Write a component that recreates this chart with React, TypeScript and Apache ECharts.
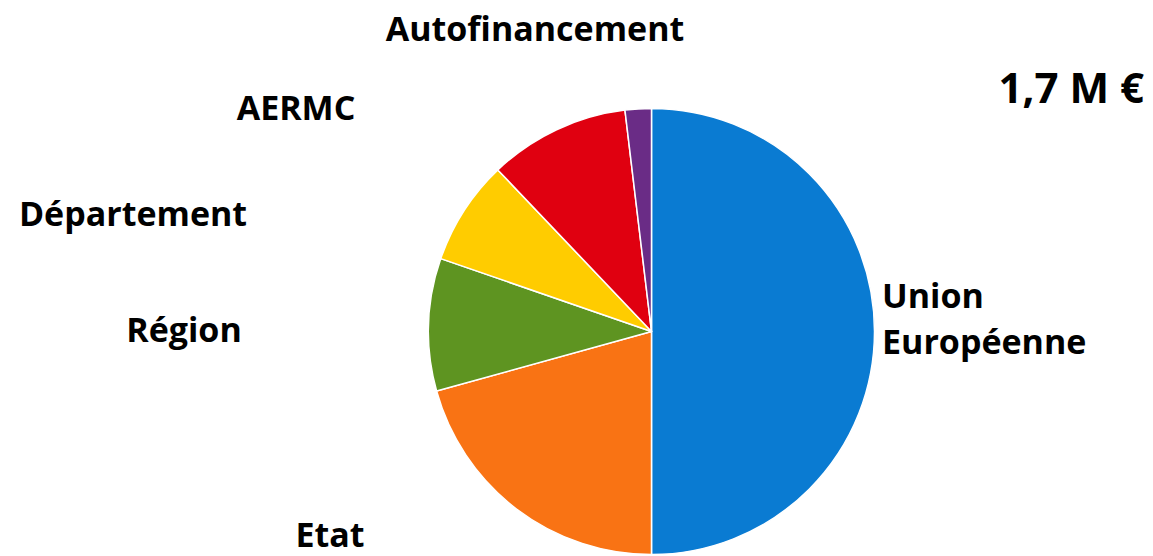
import React, { useEffect, useRef } from "react";
import * as echarts from "echarts";

const categories = ["Union Européenne", "Etat", "Région", "Département", "AERMC", "Autofinancement"];
const labelTexts = ["Union\nEuropéenne", "Etat", "Région", "Département", "AERMC", "Autofinancement"];
const shares = [50, 20.7, 9.6, 7.6, 10.2, 1.9];
const colors = ["#0A7BD2", "#F97314", "#5E9421", "#FFCC00", "#E00010", "#6A2C86"];
const totalLabel = "1,7 M €";

// label anchor positions (layout only)
const labelPos = [
  { x: 882, y: 318, align: "left" },
  { x: 330, y: 534, align: "center" },
  { x: 184, y: 329, align: "center" },
  { x: 133, y: 213, align: "center" },
  { x: 296, y: 107, align: "center" },
  { x: 535, y: 28, align: "center" },
];

const FONT = "'Open Sans', sans-serif";

export default function App() {
  const ref = useRef<HTMLDivElement>(null);
  useEffect(() => {
    if (!ref.current) return;
    const chart = echarts.init(ref.current, null, { renderer: "svg" });
    chart.setOption({
      animation: false,
      backgroundColor: "#ffffff",
      title: {
        text: totalLabel,
        right: 4,
        top: 60,
        textStyle: { fontFamily: FONT, fontWeight: 700, fontSize: 42, color: "#000" },
      },
      series: [
        {
          type: "pie",
          center: [651.5, 331.5],
          radius: 223,
          startAngle: 90,
          clockwise: true,
          avoidLabelOverlap: false,
          itemStyle: { borderColor: "#ffffff", borderWidth: 1.5 },
          labelLine: { show: false },
          label: {
            show: true,
            formatter: (p: any) => labelTexts[p.dataIndex],
            fontFamily: FONT,
            fontWeight: 700,
            fontSize: 34,
            color: "#000",
          },
          labelLayout: (p: any) => {
            const lp = labelPos[p.dataIndex];
            return { x: lp.x, y: lp.y, align: lp.align, verticalAlign: "middle" };
          },
          data: categories.map((name, i) => ({
            name,
            value: shares[i],
            itemStyle: { color: colors[i] },
            label: i === 0 ? { lineHeight: 46 } : { lineHeight: 34 },
          })),
        },
      ],
    });
    return () => chart.dispose();
  }, []);
  return (
    <div
      ref={ref}
      style={{ position: "fixed", left: 0, top: 0, width: 1153, height: 556 }}
    />
  );
}
